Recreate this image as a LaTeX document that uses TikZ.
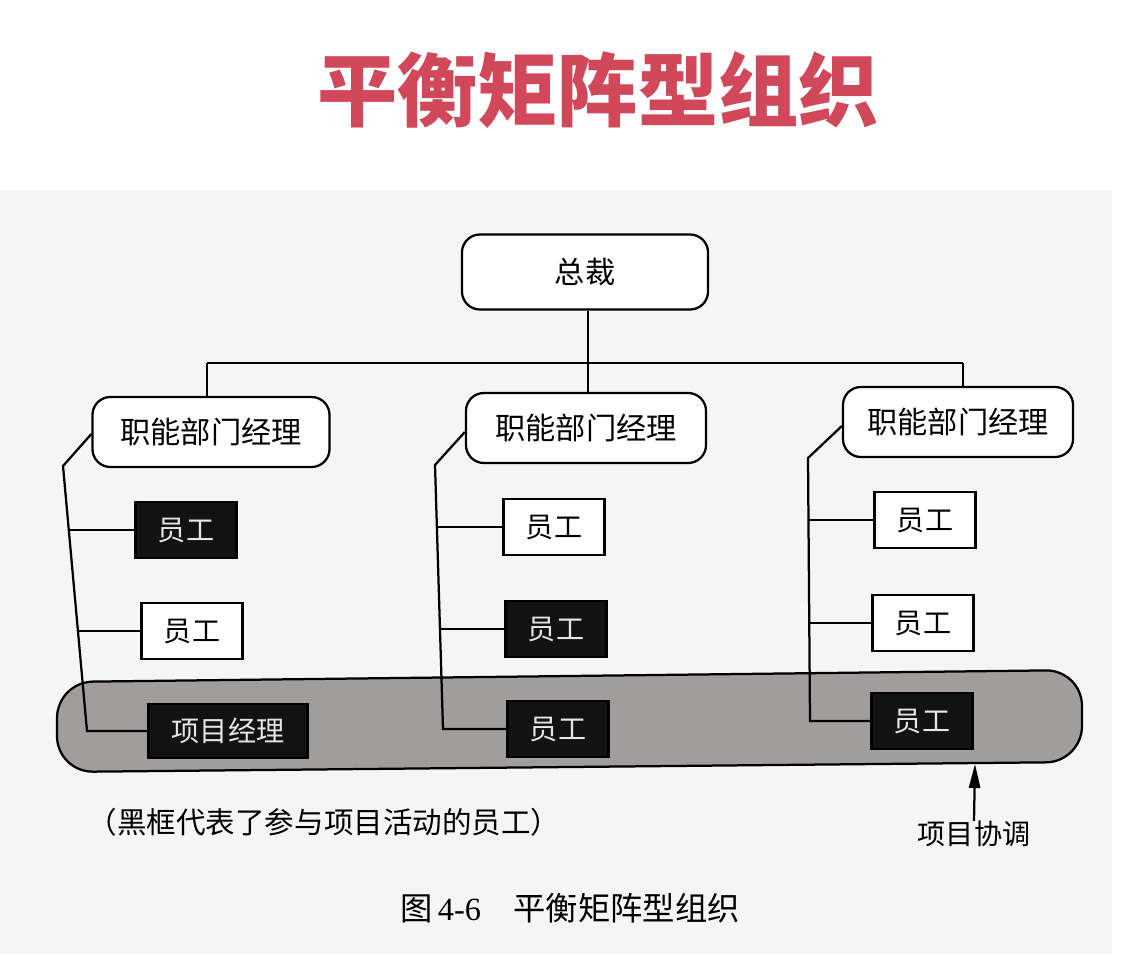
\documentclass[tikz,border=0pt]{standalone}
\usepackage{fontspec}
\usetikzlibrary{arrows.meta}
\newfontfamily\cjk{Noto Sans CJK SC}
\newfontfamily\tnr{Liberation Serif}
\definecolor{titlered}{RGB}{208,72,90}
\definecolor{paper}{RGB}{246,245,245}
\definecolor{bandgray}{RGB}{160,157,156}
\tikzset{
  base/.style={line width=1.6pt, draw=black, inner sep=0pt, font=\cjk\fontsize{21.5pt}{24pt}\selectfont},
  mgr/.style={base, rounded corners=0.45cm, fill=white, minimum height=1.75cm},
  staffw/.style={base, fill=white, minimum width=2.525cm, minimum height=1.4cm, font=\cjk\fontsize{20pt}{24pt}\selectfont},
  staffb/.style={staffw, fill=black!93, text=white!90!black},
  link/.style={line width=1.6pt, draw=black},
  note/.style={inner sep=0pt, font=\cjk\fontsize{20pt}{24pt}\selectfont}
}
\begin{document}
\begin{tikzpicture}[x=0.025cm, y=-0.025cm]
\useasboundingbox (0,0) rectangle (1122,954);
\fill[white] (0,0) rectangle (1122,954);
\fill[paper] (0,190) rectangle (1112,954);
% title
\node[inner sep=0pt, text=titlered, font=\cjk\bfseries\fontsize{57pt}{60pt}\selectfont] (title) at (598,90) {平衡矩阵型组织};
% band
\path[draw=black, line width=1.6pt, fill=bandgray, rounded corners=0.9cm]
  (57,682) -- (1082,670) -- (1082,762) -- (57,772) -- cycle;
\coordinate (band) at (975,764);
% top
\node[mgr, minimum width=6.15cm, minimum height=1.875cm] (ceo) at (585,272) {总裁};
\node[mgr, minimum width=5.925cm] (m1) at (211,432) {职能部门经理};
\node[mgr, minimum width=6.0cm] (m2) at (586,428) {职能部门经理};
\node[mgr, minimum width=5.75cm] (m3) at (958,422) {职能部门经理};
\coordinate (hub) at (588,363);
\coordinate (hl) at (207,363);
\coordinate (hr) at (963,363);
\draw[link] (ceo.south -| hub) -- (hub);
\draw[link] (hl) -- (hr);
\draw[link] (hl) -- (hl |- m1.north);
\draw[link] (hub) -- (hub |- m2.north);
\draw[link] (hr) -- (hr |- m3.north);
% left column
\node[staffb] (l1) at (186,530) {员工};
\node[staffw] (l2) at (192,631) {员工};
\node[staffb, minimum width=3.975cm, minimum height=1.35cm] (l3) at (228,731) {项目经理};
\coordinate (lk) at (63,466);
\coordinate (la) at (69,530);
\coordinate (lb) at (78,631);
\coordinate (lc) at (87,731);
\draw[link] ([yshift=-0.05cm]m1.west) -- (lk) -- (lc) -- (l3.west);
\draw[link] (la) -- (l1.west);
\draw[link] (lb) -- (l2.west);
% middle column
\node[staffw] (c1) at (554,527) {员工};
\node[staffb] (c2) at (556,629) {员工};
\node[staffb] (c3) at (558,729) {员工};
\coordinate (ck) at (435,465);
\coordinate (ca) at (437,527);
\coordinate (cb) at (440,629);
\coordinate (cc) at (443,729);
\draw[link] ([yshift=-0.1cm]m2.west) -- (ck) -- (cc) -- (c3.west);
\draw[link] (ca) -- (c1.west);
\draw[link] (cb) -- (c2.west);
% right column
\node[staffw] (r1) at (925,520) {员工};
\node[staffw] (r2) at (923,623) {员工};
\node[staffb] (r3) at (922,721) {员工};
\coordinate (rk) at (808,458);
\coordinate (ra) at (809,520);
\coordinate (rb) at (809.5,623);
\coordinate (rc) at (810,721);
\draw[link] ([yshift=-0.1cm]m3.west) -- (rk) -- (rc) -- (r3.west);
\draw[link] (ra) -- (r1.west);
\draw[link] (rb) -- (r2.west);
% notes
\node[note] (coord) at (974,834) {项目协调};
\draw[line width=1.6pt, -{Triangle[length=0.6cm, width=0.28cm]}] (coord.north) -- (band);
\node[note, font=\cjk\fontsize{21pt}{24pt}\selectfont] (legend) at (324,822) {（黑框代表了参与项目活动的员工）};
\node[inner sep=0pt, font=\cjk\fontsize{23pt}{26pt}\selectfont] (caption) at (570,908) {图\,{\tnr 4-6}\quad 平衡矩阵型组织};
\end{tikzpicture}
\end{document}
